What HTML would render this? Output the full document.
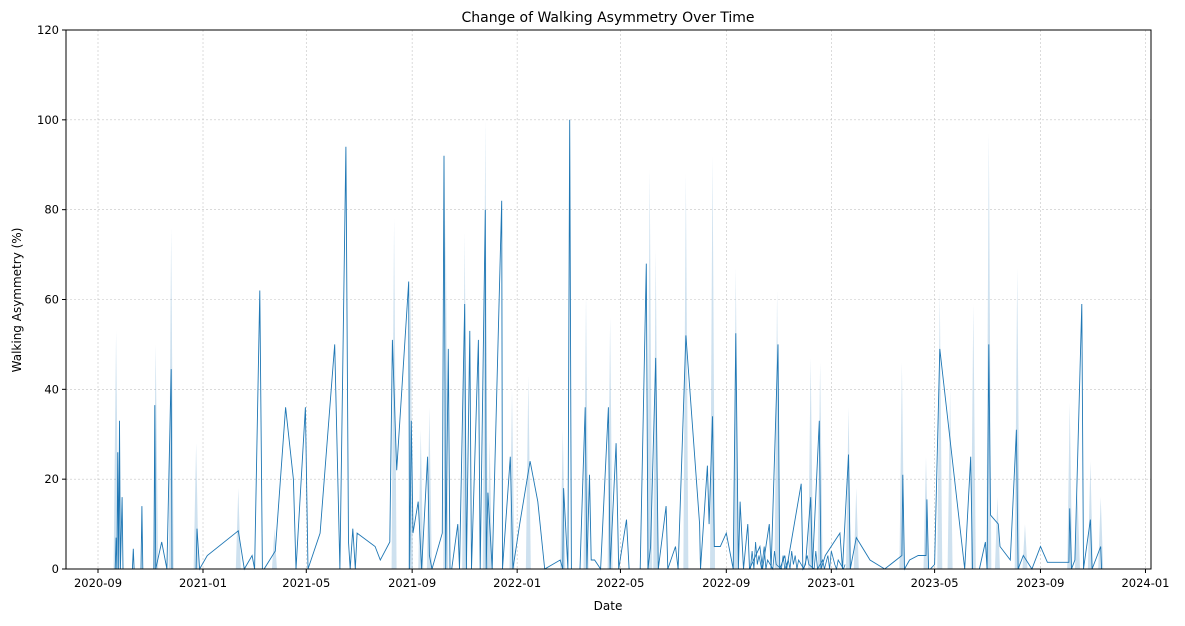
<!DOCTYPE html>
<html><head><meta charset="utf-8"><style>
body{margin:0;background:#fff;font-family:"DejaVu Sans","Liberation Sans",sans-serif;}
svg text{font-family:"DejaVu Sans","Liberation Sans",sans-serif;fill:#000;}
</style></head><body>
<svg id="chart" width="1185" height="622" xmlns="http://www.w3.org/2000/svg">
<text x="608" y="22" font-size="14" text-anchor="middle">Change of Walking Asymmetry Over Time</text>
<text x="608" y="610" font-size="12" text-anchor="middle">Date</text>
<text x="21" y="300" font-size="12" text-anchor="middle" transform="rotate(-90 21 300)">Walking Asymmetry (%)</text>
<g id="grid"></g><g id="band"></g><g id="line"></g><g id="axes"></g>
</svg>
<script>
const dayOffsets=[20,21,22,23,24,25,26,28,29,40,41,42,50,51,52,65,66,67,74,80,85,86,114,115,118,127,163,170,179,182,188,191,193,206,218,227,230,241,244,258,275,281,288,291,293,296,299,301,322,328,339,342,347,361,362,364,366,372,376,383,385,388,400,402,404,407,409,411,418,420,426,428,432,434,442,444,450,451,453,458,469,470,479,482,490,502,511,519,537,540,541,546,548,550,560,566,568,571,573,577,584,593,595,602,605,614,617,630,637,639,642,648,651,660,662,671,674,683,699,700,708,710,714,716,723,730,738,741,744,746,750,755,757,769,772,780,782,790,792,798,800,817,819,822,828,830,838,840,845,862,865,872,874,881,897,914,934,935,937,943,953,962,963,965,967,972,978,1007,1014,1016,1024,1031,1033,1035,1037,1046,1048,1060,1067,1069,1075,1085,1095,1103,1128,1129,1131,1135,1143,1145,1153,1155,1165,1166];
const values=[0,7,0,26,0,33,0,16,0,0,4.5,0,0,14,0,0,36.5,0,6,0,44.5,0,0,9,0,3,8.5,0,3,0,62,0,0,4,36,20,0,36,0,8,50,0,94,6,0,9,0,8,5,2,6,51,22,64,0,33,8,15,0,25,3,0,8,92,0,49,0,0,10,0,59,0,53,0,51,0,80,0,17,0,82,0,25,0,10,24,15,0,2,0,18,0,100,0,0,36,0,21,2,2,0,36,0,28,0,11,0,0,68,0,5,47,0,14,0,5,0,52,10,0,23,10,34,5,5,8,0,52.5,0,15,0,10,0,5,0,10,0,50,0,3,0,19,0,1,16,0,33,0,3,8,0,25.5,0,7,2,0,3,21,0,2,3,3,15.5,0,0,1,49,0,25,0,0,6,0,50,12,10,5,2,31,0,3,0,5,1.5,1.5,13.5,0,2,59,0,11,0,5,0];
const noiseDays=[758,760,762,764,766,768,771,774,776,778,784,786,788,794,796,798,802,804,806,808,810,812,814,820,824,826,832,834,836,842,844,848,850,852,856,858,860,866,868];
const noiseValues=[0,4,0,6,1,3,0,5,0,2,0,4,1,0,3,0,2,0,4,1,3,0,2,0,3,1,0,4,0,2,0,3,0,4,1,0,2,0,1];
const bandDays=[21,67,85,114,163,205,344,363,375,385,404,426,450,455,481,500,540,567,595,641,648,683,714,741,789,828,839,872,881,934,962,978,990,1017,1035,1045,1068,1077,1129,1138,1153,1165];
const bandHigh=[53,50,76,28,18,9,78,64,31,36,78,75,100,29,40,43,31,61,56,89,71,88,92,67,62,47,46,36,18,46,25,62,40,59,97,16,67,10,37,17,24,16];
const tickDays=[0,122,242,365,487,607,730,852,972,1095,1217];
const tickLabels=["2020-09","2021-01","2021-05","2021-09","2022-01","2022-05","2022-09","2023-01","2023-05","2023-09","2024-01"];
const yTicks=[0,20,40,60,80,100,120];
const L=66,R=1151,T=30,B=569;
const xs=d=>98+d*0.8607, ys=v=>B-(v/120)*(B-T);
const NS="http://www.w3.org/2000/svg";
function mk(p,tag,a){const e=document.createElementNS(NS,tag);for(const k in a)e.setAttribute(k,a[k]);p.appendChild(e);return e;}
const grid=document.getElementById('grid'),axes=document.getElementById('axes');
tickDays.forEach((d,i)=>{const x=xs(d);
 const g=mk(grid,'line',{x1:x,x2:x,y1:T,y2:B,stroke:'#c4c4c4','stroke-width':0.6,'stroke-dasharray':'2,2'});
 
 
 const t=mk(axes,'line',{x1:x,x2:x,y1:B,y2:B+4,stroke:'#000'});
 
 
 const l=mk(axes,'text',{x:x,y:B+18,'font-size':11.5,'text-anchor':'middle'});l.textContent=tickLabels[i];
 
 
});
yTicks.forEach(v=>{const y=ys(v);
 const g=mk(grid,'line',{x1:L,x2:R,y1:y,y2:y,stroke:'#c4c4c4','stroke-width':0.6,'stroke-dasharray':'2,2'});
 
 
 const t=mk(axes,'line',{x1:L-4,x2:L,y1:y,y2:y,stroke:'#000'});
 
 
 const l=mk(axes,'text',{x:L-7,y:y+4,'font-size':11.5,'text-anchor':'end'});l.textContent=v;
 
 
});
const fr=mk(axes,'rect',{x:L,y:T,width:R-L,height:B-T,fill:'none',stroke:'#000','stroke-width':1});


const band=document.getElementById('band');
bandDays.forEach((d,i)=>{const x=xs(d);
 const p=mk(band,'polygon',{points:`${x-2.5},${B} ${x},${ys(bandHigh[i])} ${x+2.5},${B}`,fill:'rgba(31,119,180,0.22)'});
 
 
});
let dp='';dayOffsets.forEach((d,i)=>{dp+=(i?'L':'M')+xs(d).toFixed(1)+','+ys(values[i]).toFixed(1);});
const ln=mk(document.getElementById('line'),'path',{d:dp,fill:'none',stroke:'#1f77b4','stroke-width':0.9});


let np='';noiseDays.forEach((d,i)=>{np+=(i?'L':'M')+xs(d).toFixed(1)+','+ys(noiseValues[i]).toFixed(1);});
const nl=mk(document.getElementById('line'),'path',{d:np,fill:'none',stroke:'#1f77b4','stroke-width':0.8});


</script>
</body></html>
